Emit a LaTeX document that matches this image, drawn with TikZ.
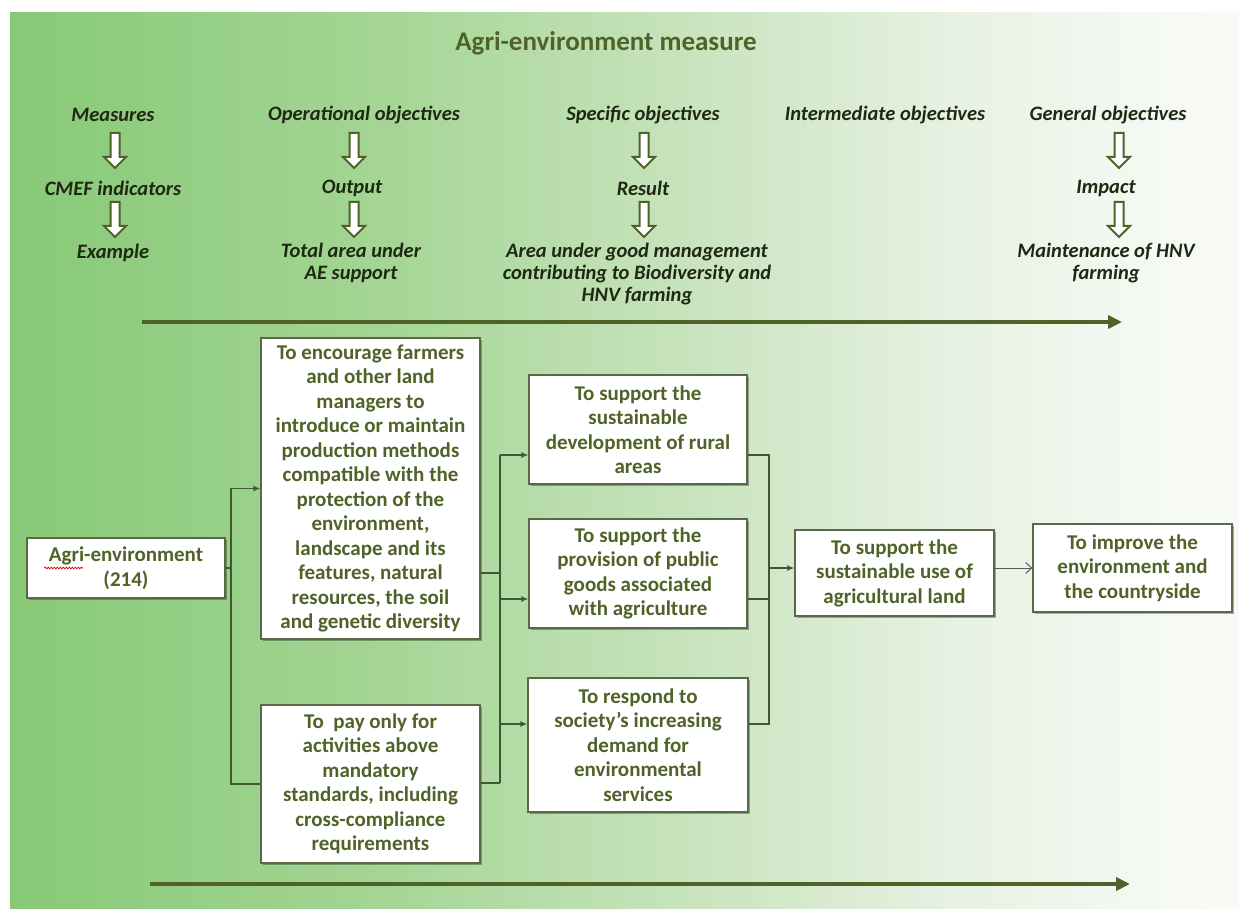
\documentclass[tikz,border=0pt]{standalone}
\usepackage{fontspec}
\setmainfont{Carlito}
\usetikzlibrary{arrows.meta,shadows,decorations.pathmorphing,calc}

\definecolor{ogreen}{HTML}{4F6228}
\definecolor{hdrcol}{RGB}{30,40,18}
\definecolor{boxline}{RGB}{88,104,72}
\definecolor{linecol}{RGB}{62,88,48}
\definecolor{g0}{RGB}{110,189,94}
\definecolor{g1}{RGB}{126,197,109}
\definecolor{g2}{RGB}{164,213,148}
\definecolor{g3}{RGB}{204,229,194}
\definecolor{g4}{RGB}{230,241,225}
\definecolor{g5}{RGB}{246,249,244}
\definecolor{g6}{RGB}{254,254,253}

% background: green fading to white from left to right
\pgfdeclarehorizontalshading{bgshade}{100bp}{%
  color(0bp)=(g0); color(20bp)=(g1); color(40bp)=(g2); color(54bp)=(g3);
  color(63bp)=(g4); color(72bp)=(g5); color(88bp)=(g6); color(100bp)=(g6)}

\tikzset{
  box/.style={draw=boxline, line width=1.3pt, fill=white, inner sep=0pt,
    align=center, text=ogreen,
    font=\bfseries\fontsize{21}{24.5}\selectfont,
    drop shadow={shadow xshift=1.5pt, shadow yshift=-1.5pt, opacity=0.3, fill=black}},
  hdr/.style={font=\bfseries\itshape\fontsize{20.5}{22}\selectfont,
    text=hdrcol, align=center, inner sep=0pt},
  conn/.style={draw=linecol, line width=1.4pt},
  tip/.style={-{Latex[length=7pt,width=6pt]}},
  bigarrow/.style={draw=ogreen, line width=4pt, -{Triangle[length=14pt,width=13pt]}},
  hollowdown/.pic={
    \draw[ogreen, line width=2pt, fill=white, line join=miter]
      (-4.5,0) -- (4.5,0) -- (4.5,24) -- (11,24) -- (0,35)
      -- (-11,24) -- (-4.5,24) -- cycle;}
}

\begin{document}
\begin{tikzpicture}[x=1pt, y=-1pt]
\useasboundingbox (0,0) rectangle (1239,909);
\shade[shading=bgshade] (10,13) rectangle (1239,909);

% title
\node[font=\bfseries\fontsize{27}{32}\selectfont, text=ogreen] (title) at (606,43) {Agri-environment measure};

% column headings
\node[hdr] (h1) at (113,115) {Measures};
\node[hdr] (h2) at (364,115) {Operational objectives};
\node[hdr] (h3) at (643,115) {Specific objectives};
\node[hdr] (h4) at (885,115) {Intermediate objectives};
\node[hdr] (h5) at (1108,115) {General objectives};

\pic at (115,133) {hollowdown};
\pic at (354,133) {hollowdown};
\pic at (644,133) {hollowdown};
\pic at (1119,133) {hollowdown};

\node[hdr] (r1) at (113,188) {CMEF indicators};
\node[hdr] (r2) at (352,188) {Output};
\node[hdr] (r3) at (643,188) {Result};
\node[hdr] (r5) at (1106,188) {Impact};

\pic at (115,202) {hollowdown};
\pic at (354,202) {hollowdown};
\pic at (644,202) {hollowdown};
\pic at (1119,202) {hollowdown};

\node[hdr] (e1) at (113,253) {Example};
\node[hdr] (e2) at (351,263) {Total area under\\AE support};
\node[hdr] (e3) at (637,274.5) {Area under good management\\contributing to Biodiversity and\\HNV farming};
\node[hdr] (e5) at (1106,263.5) {Maintenance of HNV\\farming};

% time arrows
\coordinate (ta) at (142,322);
\coordinate (tb) at (1122,322);
\draw[bigarrow] (ta) -- (tb);
\coordinate (ba) at (150,884);
\coordinate (bb) at (1130,884);
\draw[bigarrow] (ba) -- (bb);

% objective boxes
\node[box, minimum width=198pt, minimum height=60pt] (agri) at (126,568)
  {Agri-environment\\(214)};
\node[box, minimum width=219pt, minimum height=301pt] (b1) at (370.5,488.5)
  {To encourage farmers\\and other land\\managers to\\introduce or maintain\\production methods\\compatible with the\\protection of the\\environment,\\landscape and its\\features, natural\\resources, the soil\\and genetic diversity};
\node[box, minimum width=219pt, minimum height=158pt] (b2) at (370.5,784)
  {To\ \ pay only for\\activities above\\mandatory\\standards, including\\cross-compliance\\requirements};
\node[box, minimum width=218pt, minimum height=109pt] (bA) at (638,429.5)
  {To support the\\sustainable\\development of rural\\areas};
\node[box, minimum width=218pt, minimum height=109pt] (bB) at (638,573.5)
  {To support the\\provision of public\\goods associated\\with agriculture};
\node[box, minimum width=220pt, minimum height=134pt] (bC) at (638,745)
  {To respond to\\society’s increasing\\demand for\\environmental\\services};
\node[box, minimum width=199pt, minimum height=86pt] (bD) at (894.5,573)
  {To support the\\sustainable use of\\agricultural land};
\node[box, minimum width=199pt, minimum height=88pt] (bE) at (1132.5,568)
  {To improve the\\environment and\\the countryside};

% spell-check mark under "Agri"
\draw[red!80!black, line width=0.7pt, decorate,
  decoration={snake, amplitude=0.8pt, segment length=3pt}]
  ($(agri.west)+(18,0)$) -- ($(agri.west)+(57,0)$);

% measure to operational objectives
\coordinate (j0) at (231,568);
\draw[conn] (agri.east) -- (j0);
\draw[conn, tip] (j0) |- (b1.west);
\draw[conn] (j0) |- (b2.west);

% operational to specific objectives
\coordinate (s1) at (500,455);
\coordinate (s2) at (500,599);
\coordinate (s3) at (500,724);
\coordinate (s4) at (500,783);
\draw[conn, line width=2pt] (b1.east |- 0,573) -- (s1 |- 0,573);
\draw[conn] (s1) -- (s4);
\draw[conn] (b2.east |- s4) -- (s4);
\draw[conn, tip] (s1) -- (s1 -| bA.west);
\draw[conn, tip] (s2) -- (s2 -| bB.west);
\draw[conn, tip] (s3) -- (s3 -| bC.west);

% specific to intermediate objectives
\coordinate (m1) at (769,455);
\coordinate (m2) at (769,599);
\coordinate (m3) at (769,724);
\coordinate (m0) at (769,568);
\draw[conn] (bA.east |- m1) -- (m1) -- (m3) -- (bC.east |- m3);
\draw[conn] (bB.east |- m2) -- (m2);
\draw[conn, tip] (m0) -- (m0 -| bD.west);

% intermediate to general objective
\draw[draw=black!65, line width=1pt, -{Straight Barb[length=6pt,width=11pt]}]
  (bD.east |- 0,568) -- (bE.west);
\end{tikzpicture}
\end{document}
